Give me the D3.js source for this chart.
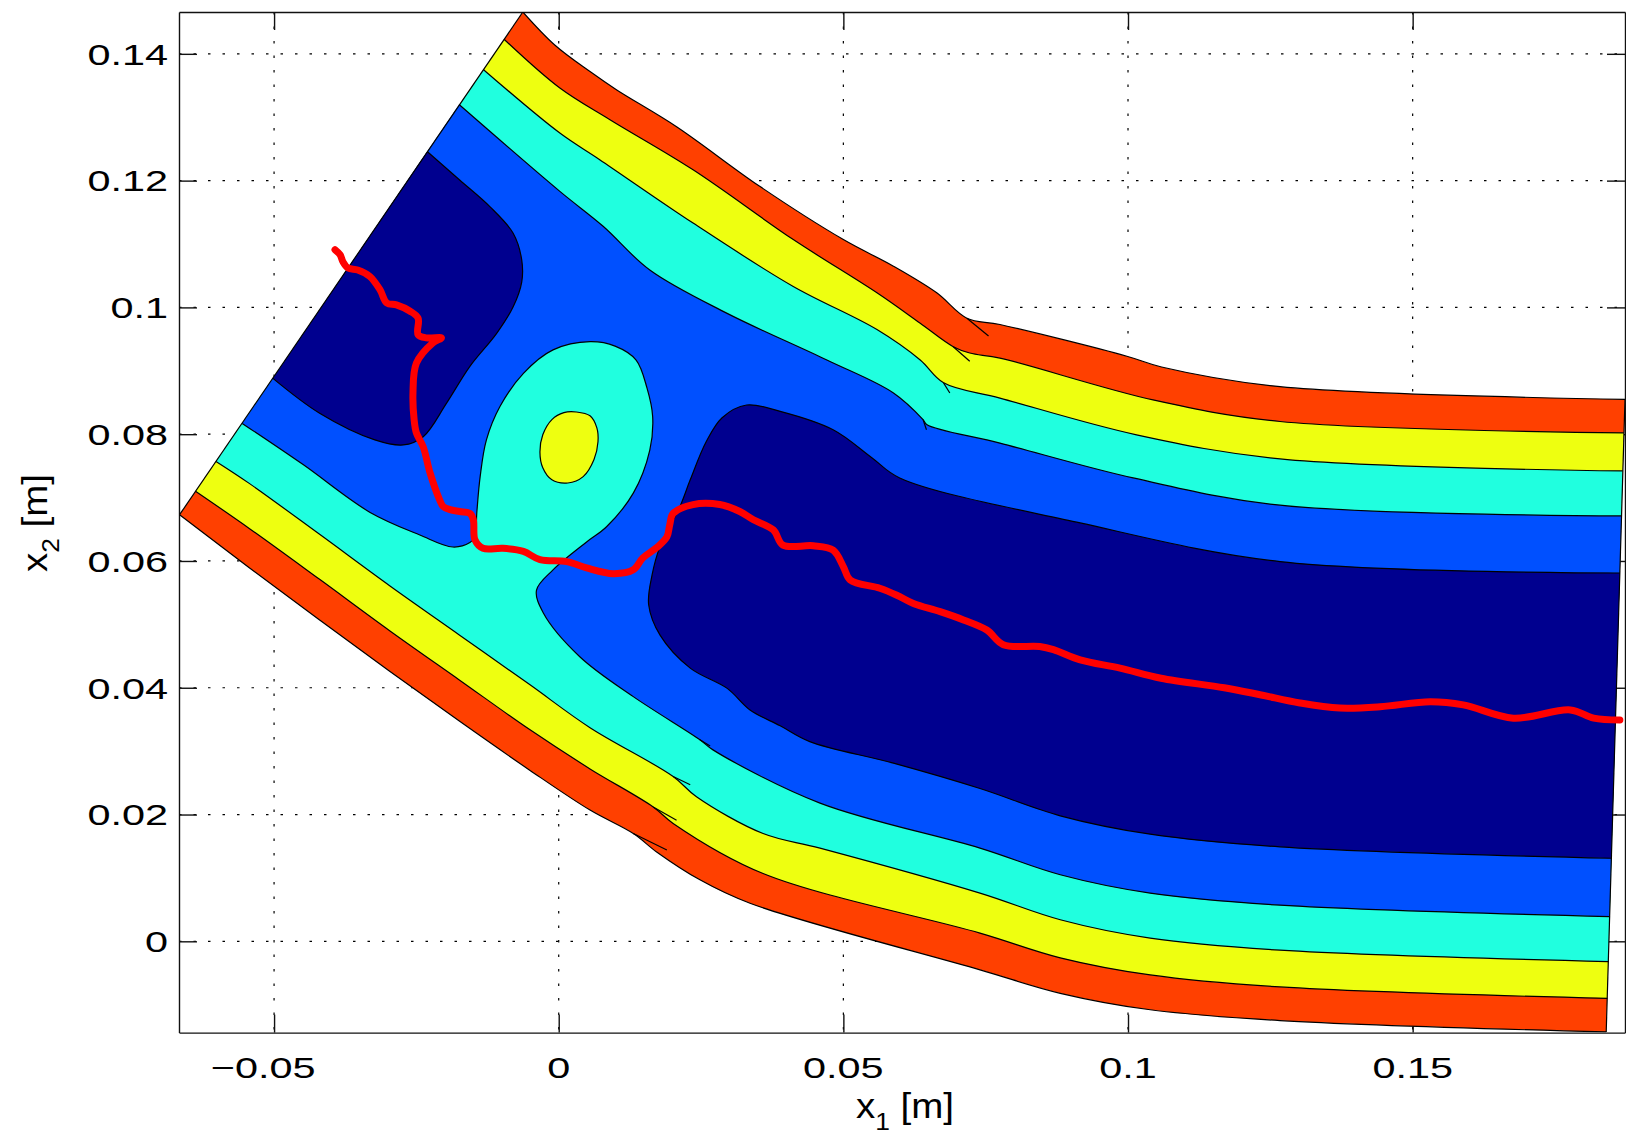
<!DOCTYPE html>
<html>
<head>
<meta charset="utf-8">
<script src="https://cdn.jsdelivr.net/npm/d3@7"></script>
<style>
  body { margin: 0; background: #fff; }
  svg { display: block; background: #fff; font-family: 'Liberation Sans', Arial, Helvetica, sans-serif; }
  .grid line { stroke: #000; stroke-width: 1.2; stroke-dasharray: 2.5 12; }
  .axis path, .axis line { stroke: #111; stroke-width: 1.4; }
  .contour { fill: none; stroke: #000; stroke-width: 1.2; stroke-linejoin: round; }
  .traj { fill: none; stroke: #ff0000; stroke-width: 7; stroke-linecap: round; stroke-linejoin: round; }
</style>
</head>
<body>
<svg id="chart"></svg>
<script>
// axis ticks
const xTicks = [-0.05, 0, 0.05, 0.1, 0.15]
const xTickLabels = ['\u22120.05', '0', '0.05', '0.1', '0.15']
const yTicks = [0, 0.02, 0.04, 0.06, 0.08, 0.1, 0.12, 0.14]
const yTickLabels = ['0', '0.02', '0.04', '0.06', '0.08', '0.1', '0.12', '0.14']

// duct edges [x1, x2] in metres
const inletEdge = [[-0.0063, 0.1466], [-0.0666, 0.0673]]
const outletEdge = [[0.1873, 0.0855], [0.1840, -0.0143]]

// contour lines, upper side (inlet -> outlet)
const upperWall = [
  [-0.0063, 0.1466], [-0.0007, 0.1414], [0.0055, 0.1372], [0.0102, 0.1343],
  [0.0207, 0.1285], [0.0353, 0.1191], [0.0500, 0.1107], [0.0588, 0.1065],
  [0.0664, 0.1023], [0.0717, 0.0983], [0.0775, 0.0973], [0.0998, 0.0923],
  [0.1059, 0.0906], [0.1267, 0.0875], [0.1873, 0.0855]
]
const redYellowUpper = [
  [-0.0096, 0.1423], [0.0002, 0.1346], [0.0090, 0.1296], [0.0236, 0.1217],
  [0.0412, 0.1107], [0.0559, 0.1023], [0.0635, 0.0975], [0.0693, 0.0938],
  [0.0722, 0.0928], [0.0775, 0.0920], [0.1044, 0.0854], [0.1267, 0.0820],
  [0.1871, 0.0802]
]
const yellowCyanUpper = [
  [-0.0132, 0.1375], [0.0002, 0.1275], [0.0072, 0.1233], [0.0236, 0.1133],
  [0.0412, 0.1033], [0.0559, 0.0965], [0.0635, 0.0917], [0.0676, 0.0881],
  [0.0775, 0.0857], [0.1015, 0.0799], [0.1267, 0.0761], [0.1869, 0.0742]
]
const cyanBlueUpper = [
  [-0.0175, 0.1320], [0.0002, 0.1183], [0.0078, 0.1128], [0.0160, 0.1059],
  [0.0295, 0.0991], [0.0471, 0.0917], [0.0588, 0.0865], [0.0640, 0.0823],
  [0.0647, 0.0815], [0.0775, 0.0786], [0.1009, 0.0731], [0.1267, 0.0688],
  [0.1867, 0.0671]
]

// lower cyan/blue contour, outlet -> round the blob -> inlet
const cyanBlueLower = [
  [0.1846, 0.0039], [0.1267, 0.0057], [0.1039, 0.0076], [0.0881, 0.0105],
  [0.0740, 0.0147], [0.0459, 0.0218], [0.0271, 0.0302], [0.0248, 0.0318],
  [0.0131, 0.0386], [0.0037, 0.0449], [-0.0027, 0.0518], [-0.0039, 0.0554],
  [-0.0010, 0.0586], [0.0049, 0.0630], [0.0084, 0.0654], [0.0131, 0.0707],
  [0.0160, 0.0775], [0.0165, 0.0828], [0.0155, 0.0873], [0.0136, 0.0917],
  [0.0099, 0.0939], [0.0055, 0.0946], [-0.0010, 0.0933], [-0.0062, 0.0896],
  [-0.0103, 0.0844], [-0.0127, 0.0791], [-0.0138, 0.0733], [-0.0144, 0.0675],
  [-0.0147, 0.0638], [-0.0156, 0.0629], [-0.0186, 0.0622], [-0.0244, 0.0641],
  [-0.0332, 0.0677], [-0.0449, 0.0752], [-0.0556, 0.0817]
]

// contour lines, lower side (inlet -> outlet)
const yellowCyanLower = [
  [-0.0602, 0.0757], [-0.0543, 0.0722], [-0.0420, 0.0642], [-0.0297, 0.0561],
  [-0.0174, 0.0483], [-0.0051, 0.0405], [0.0055, 0.0337], [0.0201, 0.0260],
  [0.0242, 0.0228], [0.0359, 0.0170], [0.0459, 0.0147], [0.0740, 0.0076],
  [0.0881, 0.0034], [0.1039, 0.0005], [0.1267, -0.0014], [0.1844, -0.0032]
]
const redYellowLower = [
  [-0.0638, 0.0710], [-0.0543, 0.0651], [-0.0420, 0.0571], [-0.0297, 0.0490],
  [-0.0174, 0.0412], [-0.0051, 0.0334], [0.0055, 0.0272], [0.0166, 0.0212],
  [0.0201, 0.0186], [0.0359, 0.0107], [0.0740, 0.0013], [0.0881, -0.0026],
  [0.1039, -0.0053], [0.1267, -0.0072], [0.1842, -0.0090]
]
const lowerWall = [
  [-0.0666, 0.0673], [-0.0543, 0.0589], [-0.0420, 0.0507], [-0.0297, 0.0426],
  [-0.0174, 0.0347], [-0.0051, 0.0270], [0.0055, 0.0207], [0.0131, 0.0170],
  [0.0172, 0.0141], [0.0248, 0.0097], [0.0336, 0.0060], [0.0740, -0.0045],
  [0.0881, -0.0082], [0.1039, -0.0108], [0.1267, -0.0125], [0.1840, -0.0143]
]

// low-value pockets
const navyLeft = [
  [-0.0231, 0.1246], [-0.0174, 0.1201], [-0.0121, 0.1159], [-0.0080, 0.1117],
  [-0.0065, 0.1075], [-0.0065, 0.1040], [-0.0080, 0.1001], [-0.0109, 0.0959],
  [-0.0156, 0.0907], [-0.0197, 0.0849], [-0.0238, 0.0796], [-0.0273, 0.0783],
  [-0.0323, 0.0791], [-0.0420, 0.0833], [-0.0502, 0.0888]
]
const navyRight = [
  [0.1864, 0.0581], [0.1267, 0.0599], [0.0916, 0.0660], [0.0599, 0.0731],
  [0.0550, 0.0763], [0.0482, 0.0807], [0.0389, 0.0836], [0.0330, 0.0846],
  [0.0287, 0.0826], [0.0259, 0.0788], [0.0231, 0.0728], [0.0213, 0.0686],
  [0.0178, 0.0623], [0.0164, 0.0578], [0.0158, 0.0531], [0.0178, 0.0483],
  [0.0231, 0.0431], [0.0296, 0.0399], [0.0336, 0.0365], [0.0389, 0.0340],
  [0.0441, 0.0315], [0.0588, 0.0281], [0.0740, 0.0241], [0.0881, 0.0198],
  [0.1039, 0.0169], [0.1267, 0.0149], [0.1849, 0.0131]
]
const yellowCore = [
  [0.0031, 0.0835], [0.0055, 0.0829], [0.0067, 0.0810], [0.0069, 0.0788],
  [0.0062, 0.0760], [0.0043, 0.0733], [0.0016, 0.0723], [-0.0012, 0.0728],
  [-0.0028, 0.0747], [-0.0033, 0.0772], [-0.0028, 0.0799], [-0.0012, 0.0823],
  [0.0009, 0.0834]
]

// little contour overshoots at the bends
const kinks = [
  [[0.0717, 0.0983], [0.0755, 0.0955]],
  [[0.0693, 0.0938], [0.0722, 0.0915]],
  [[0.0676, 0.0881], [0.0687, 0.0865]],
  [[0.0640, 0.0823], [0.0646, 0.0807]],
  [[0.0131, 0.0170], [0.0190, 0.0144]],
  [[0.0166, 0.0212], [0.0207, 0.0191]],
  [[0.0201, 0.0260], [0.0231, 0.0247]],
  [[0.0248, 0.0318], [0.0266, 0.0308]]
]

// red path
const trajectory = [
  [-0.0393, 0.1091], [-0.0384, 0.1083], [-0.0379, 0.1072], [-0.0370, 0.1062],
  [-0.0353, 0.1059], [-0.0332, 0.1049], [-0.0314, 0.1028], [-0.0302, 0.1007],
  [-0.0285, 0.1004], [-0.0261, 0.0994], [-0.0247, 0.0983], [-0.0247, 0.0957],
  [-0.0232, 0.0952], [-0.0206, 0.0952], [-0.0221, 0.0944], [-0.0250, 0.0912],
  [-0.0256, 0.0865], [-0.0254, 0.0823], [-0.0250, 0.0802], [-0.0238, 0.0780],
  [-0.0226, 0.0739], [-0.0209, 0.0696], [-0.0203, 0.0686], [-0.0191, 0.0681],
  [-0.0174, 0.0678], [-0.0156, 0.0675], [-0.0150, 0.0665], [-0.0147, 0.0633],
  [-0.0133, 0.0620], [-0.0098, 0.0620], [-0.0062, 0.0615], [-0.0033, 0.0602],
  [0.0014, 0.0599], [0.0049, 0.0589], [0.0096, 0.0580], [0.0131, 0.0586],
  [0.0148, 0.0605], [0.0172, 0.0621], [0.0190, 0.0638], [0.0195, 0.0657],
  [0.0201, 0.0675], [0.0236, 0.0689], [0.0283, 0.0689], [0.0318, 0.0678],
  [0.0342, 0.0665], [0.0377, 0.0649], [0.0394, 0.0625], [0.0447, 0.0624],
  [0.0482, 0.0617], [0.0500, 0.0591], [0.0512, 0.0570], [0.0564, 0.0557],
  [0.0594, 0.0546], [0.0623, 0.0533], [0.0670, 0.0520], [0.0711, 0.0507],
  [0.0752, 0.0491], [0.0781, 0.0468], [0.0845, 0.0465], [0.0869, 0.0460],
  [0.0916, 0.0444], [0.0986, 0.0431], [0.1058, 0.0415], [0.1169, 0.0400],
  [0.1232, 0.0389], [0.1302, 0.0376], [0.1372, 0.0368], [0.1443, 0.0370],
  [0.1531, 0.0378], [0.1589, 0.0373], [0.1677, 0.0352], [0.1777, 0.0365],
  [0.1818, 0.0352], [0.1864, 0.0349]
]

const width = 1626
const height = 1137
const margin = { top: 12, right: 1, bottom: 104.4, left: 179 }
const w = width - margin.left - margin.right
const h = height - margin.top - margin.bottom

const svg = d3.select('#chart')
  .attr('width', width)
  .attr('height', height)

const chart = svg.append('g')
  .attr('transform', `translate(${margin.left}, ${margin.top})`)

const x = d3.scaleLinear().domain([-0.0667, 0.1873]).range([0, w])
const y = d3.scaleLinear().domain([-0.0144, 0.1466]).range([h, 0])

// dotted grid
const grid = chart.append('g').attr('class', 'grid')
grid.selectAll('.gx').data(xTicks).join('line')
  .attr('class', 'gx')
  .attr('x1', d => x(d)).attr('x2', d => x(d))
  .attr('y1', 0).attr('y2', h)
grid.selectAll('.gy').data(yTicks).join('line')
  .attr('class', 'gy')
  .attr('y1', d => y(d)).attr('y2', d => y(d))
  .attr('x1', 0).attr('x2', w)

// box with inward ticks on all four sides
const tick = -18
chart.append('g').attr('class', 'axis')
  .call(d3.axisLeft(y).tickValues(yTicks).tickSize(tick).tickSizeOuter(0).tickFormat(''))
chart.append('g').attr('class', 'axis')
  .attr('transform', `translate(${w}, 0)`)
  .call(d3.axisRight(y).tickValues(yTicks).tickSize(tick).tickSizeOuter(0).tickFormat(''))
chart.append('g').attr('class', 'axis')
  .call(d3.axisTop(x).tickValues(xTicks).tickSize(tick).tickSizeOuter(0).tickFormat(''))
chart.append('g').attr('class', 'axis')
  .attr('transform', `translate(0, ${h})`)
  .call(d3.axisBottom(x).tickValues(xTicks).tickSize(tick).tickSizeOuter(0).tickFormat(''))

svg.append('clipPath').attr('id', 'plot-clip')
  .append('rect').attr('width', w).attr('height', h)

const curve = d3.line()
  .x(d => x(d[0]))
  .y(d => y(d[1]))
  .curve(d3.curveCatmullRom.alpha(0.5))

const closedCurve = d3.line()
  .x(d => x(d[0]))
  .y(d => y(d[1]))
  .curve(d3.curveCatmullRomClosed.alpha(0.5))

// join several pieces into one closed outline
function region(...pieces) {
  return pieces.map((p, i) => {
    const s = curve(p)
    return i ? 'L' + s.slice(1) : s
  }).join('') + 'Z'
}

const rev = a => a.slice().reverse()

const fills = [
  { d: region(upperWall, rev(lowerWall)), color: '#ff4000' },
  { d: region(redYellowUpper, rev(redYellowLower)), color: '#eeff10' },
  { d: region(yellowCyanUpper, rev(yellowCyanLower)), color: '#20ffdf' },
  { d: region(cyanBlueUpper, cyanBlueLower), color: '#0050ff' },
  { d: region(navyLeft), color: '#00008f' },
  { d: region(navyRight), color: '#00008f' },
  { d: closedCurve(yellowCore), color: '#eeff10' }
]

const field = chart.append('g').attr('clip-path', 'url(#plot-clip)')

field.selectAll('.band').data(fills).join('path')
  .attr('class', 'band')
  .attr('d', d => d.d)
  .attr('fill', d => d.color)

const lines = [
  upperWall, redYellowUpper, yellowCyanUpper, cyanBlueUpper,
  cyanBlueLower, yellowCyanLower, redYellowLower, lowerWall,
  navyLeft, navyRight, inletEdge, outletEdge
].concat(kinks)

field.selectAll('.contour').data(lines).join('path')
  .attr('class', 'contour')
  .attr('d', d => curve(d))

field.append('path')
  .attr('class', 'contour')
  .attr('d', closedCurve(yellowCore) + 'Z')

field.append('path')
  .attr('class', 'traj')
  .attr('d', curve(trajectory))

// tick labels
const labelFont = 30
chart.selectAll('.ytl').data(yTicks).join('text')
  .attr('class', 'ytl')
  .attr('transform', d => `translate(-11, ${y(d)}) scale(1.38, 1)`)
  .attr('text-anchor', 'end')
  .attr('dy', '0.36em')
  .attr('font-size', labelFont)
  .attr('fill', '#000')
  .text((d, i) => yTickLabels[i])

// matlab centres the digits, so negative labels sit a bit to the left
chart.selectAll('.xtl').data(xTicks).join('text')
  .attr('class', 'xtl')
  .attr('transform', d => `translate(${x(d) - (d < 0 ? 11 : 0)}, ${h + 45}) scale(1.38, 1)`)
  .attr('text-anchor', 'middle')
  .attr('font-size', labelFont)
  .attr('fill', '#000')
  .text((d, i) => xTickLabels[i])

// axis titles
function title(g, sub) {
  g.append('tspan').text('x')
  g.append('tspan').attr('font-size', 24).attr('dy', 12).text(sub)
  g.append('tspan').attr('dy', -12).text(' [m]')
}

svg.append('text')
  .attr('transform', 'translate(905, 1118) scale(1.1, 1)')
  .attr('text-anchor', 'middle')
  .attr('font-size', 35)
  .call(title, '1')

svg.append('text')
  .attr('transform', 'translate(47, 523) rotate(-90) scale(1.1, 1)')
  .attr('text-anchor', 'middle')
  .attr('font-size', 35)
  .call(title, '2')
</script>
</body>
</html>
